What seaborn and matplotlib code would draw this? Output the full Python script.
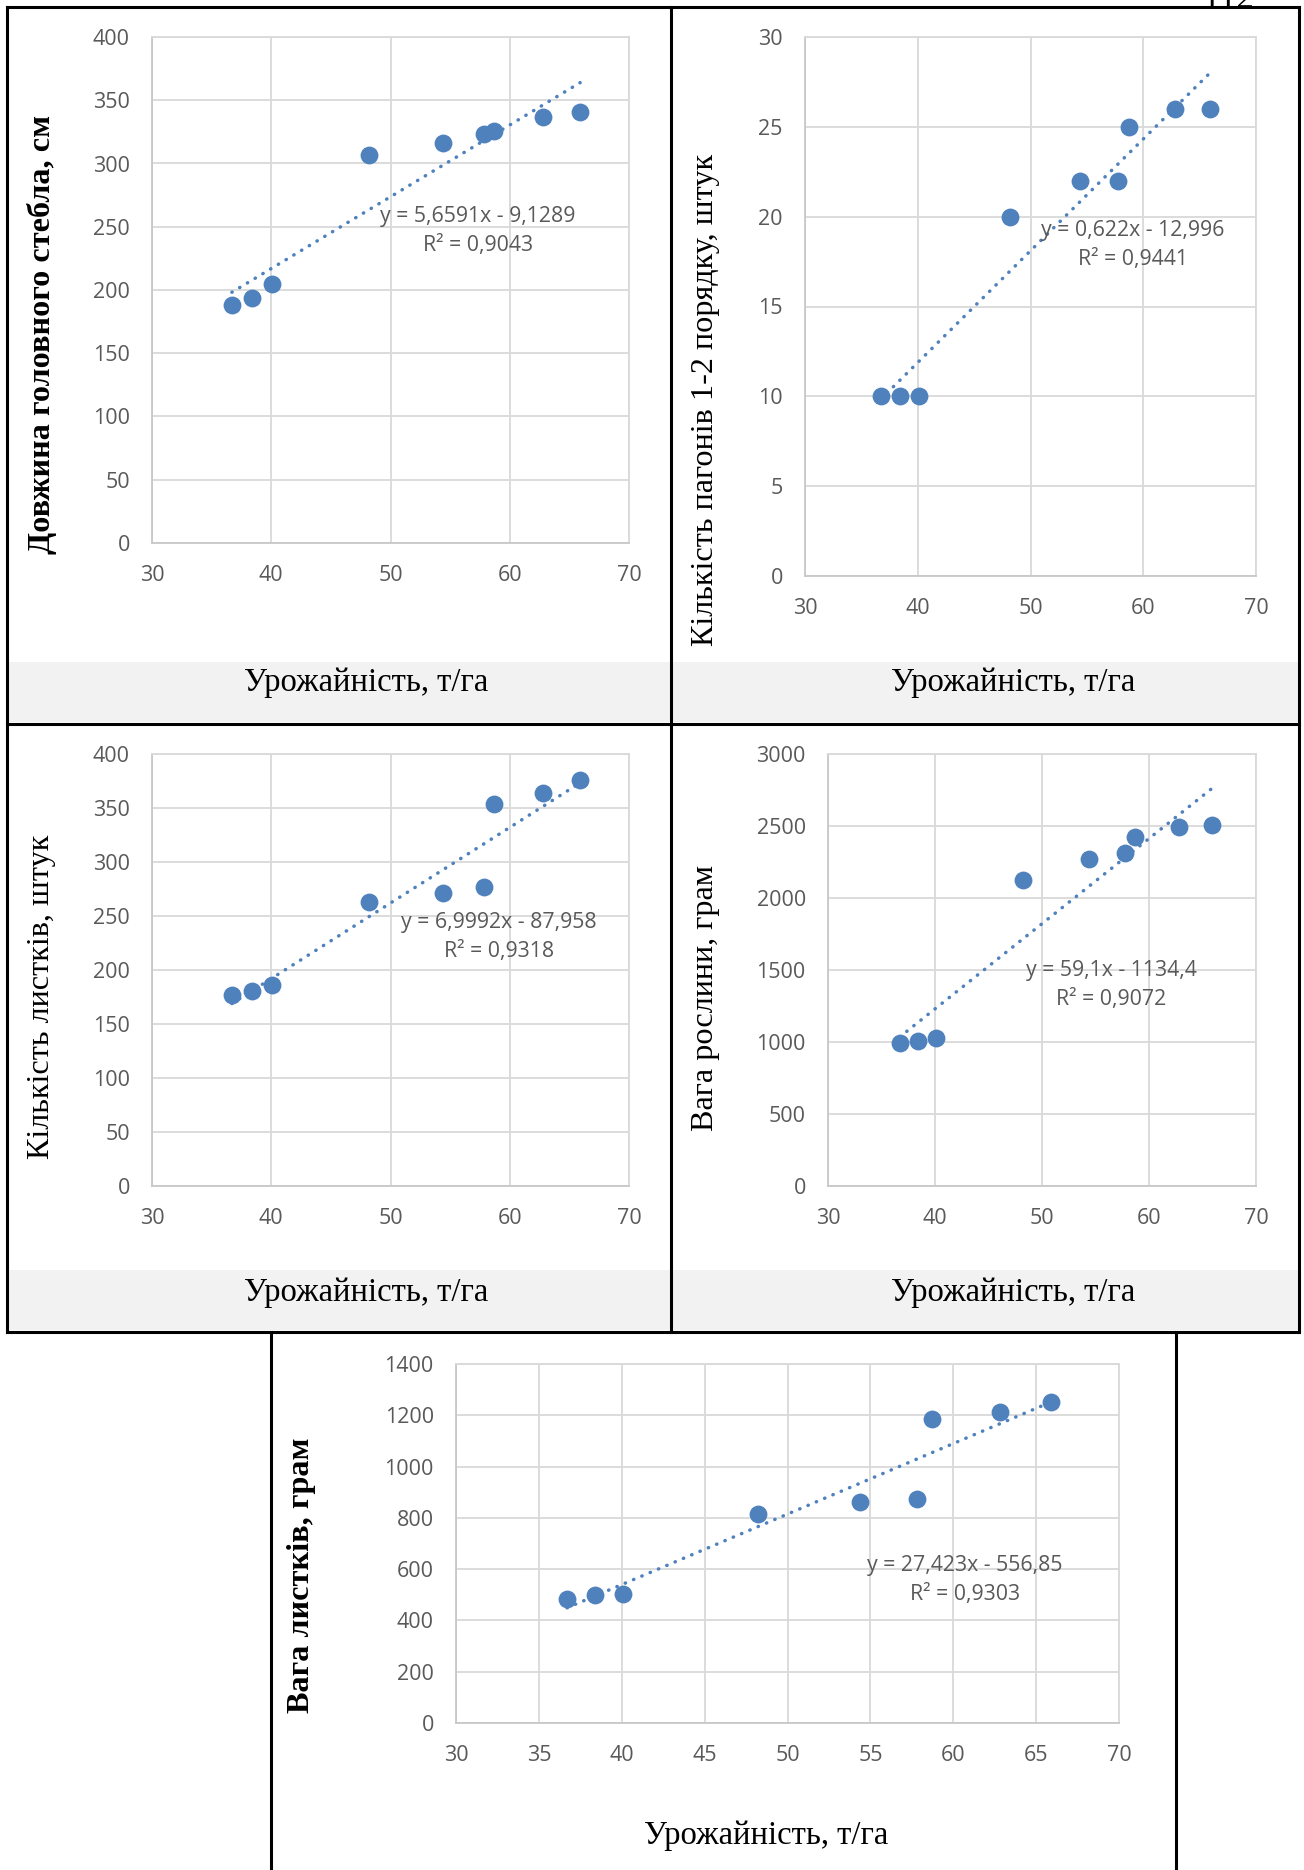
import numpy as np
import pandas as pd
import matplotlib
matplotlib.use("Agg")
import matplotlib.pyplot as plt
import seaborn as sns
from matplotlib.patches import Rectangle
from matplotlib.lines import Line2D

# ---------------- data ----------------
yield_t_ha = [36.7, 38.4, 40.1, 48.2, 54.4, 57.8, 58.7, 62.8, 65.9]
stem_length_cm = [188, 194, 205, 307, 316, 323, 326, 337, 341]
shoots_count = [10, 10, 10, 20, 22, 22, 25, 26, 26]
leaves_count = [177, 181, 186, 263, 271, 277, 354, 364, 376]
plant_weight_g = [995, 1005, 1030, 2128, 2269, 2313, 2423, 2490, 2509]
leaf_weight_g = [485, 499, 503, 815, 863, 874, 1187, 1211, 1253]

x_label = "Урожайність, т/га"
y_labels = [
    "Довжина головного стебла, см",
    "Кількість пагонів 1-2 порядку, штук",
    "Кількість листків, штук",
    "Вага рослини, грам",
    "Вага листків, грам",
]
equations = [
    "y = 5,6591x - 9,1289",
    "y = 0,622x - 12,996",
    "y = 6,9992x - 87,958",
    "y = 59,1x - 1134,4",
    "y = 27,423x - 556,85",
]
r_squared = [
    "R² = 0,9043",
    "R² = 0,9441",
    "R² = 0,9318",
    "R² = 0,9072",
    "R² = 0,9303",
]
y_max = [400, 30, 400, 3000, 1400]
y_step = [50, 5, 50, 500, 200]
x_step = [10, 10, 10, 10, 5]
series = [stem_length_cm, shoots_count, leaves_count, plant_weight_g, leaf_weight_g]
page_number = "112"

# ---------------- layout (pixels) ----------------
W, H = 1304, 1870
plot_px = [
    (152, 37, 629, 543),
    (805, 37, 1256, 576),
    (152, 754, 629, 1186),
    (828, 754, 1256, 1186),
    (456, 1364, 1119, 1723),
]
ylabel_px = [(42, 334), (706, 400), (42, 997), (706, 998), (302, 1575)]
ylabel_bold = [True, False, False, False, True]
xlabel_px = [(366, 683), (1013, 683), (366, 1293), (1013, 1293), (766, 1836)]
eq_px = [(478, 231), (1133, 245), (499, 937), (1111, 985), (965, 1580)]

BLUE = "#4F81BD"
TXT = "#595959"
GRID = "#d9d9d9"
SANS = ["Open Sans", "DejaVu Sans"]
SERIF = ["Liberation Serif", "DejaVu Serif"]

sns.set_style("white")
plt.rcParams["font.family"] = SANS

fig = plt.figure(figsize=(W / 100, H / 100), dpi=100)


def fx(x):
    return x / W


def fy(y):
    return 1 - y / H


# gray bands behind x-axis titles
for (y0, y1) in [(662, 722), (1270, 1330)]:
    fig.patches.append(Rectangle((fx(7), fy(y1)), fx(1299) - fx(7), fy(y0) - fy(y1),
                                 transform=fig.transFigure, facecolor="#f2f2f2",
                                 edgecolor="none", zorder=0))

for i in range(5):
    x0, y0, x1, y1 = plot_px[i]
    ax = fig.add_axes([fx(x0), fy(y1), fx(x1) - fx(x0), fy(y0) - fy(y1)])
    ax.set_facecolor("none")
    df = pd.DataFrame({"x": yield_t_ha, "y": series[i]})
    sns.scatterplot(data=df, x="x", y="y", ax=ax, s=165, color=BLUE,
                    edgecolor=BLUE, linewidth=0, zorder=3)
    sns.regplot(data=df, x="x", y="y", ax=ax, scatter=False, ci=None,
                line_kws=dict(color=BLUE, lw=2.5, linestyle=(0, (0.1, 2.5)),
                              dash_capstyle="round", zorder=4))
    ax.set_xlim(30, 70)
    ax.set_ylim(0, y_max[i])
    ax.set_xticks(np.arange(30, 70 + 0.1, x_step[i]))
    ax.set_yticks(np.arange(0, y_max[i] + 0.1, y_step[i]))
    ax.grid(True, color=GRID, lw=1.3)
    ax.set_axisbelow(True)
    for s in ax.spines.values():
        s.set_color(GRID)
        s.set_linewidth(1.3)
    ax.spines["left"].set_color("#c8c8c8")
    ax.spines["bottom"].set_color("#c8c8c8")
    ax.tick_params(axis="both", length=0, labelsize=15.5, labelcolor=TXT)
    ax.tick_params(axis="y", pad=16)
    ax.tick_params(axis="x", pad=16)
    ax.set_xlabel("")
    ax.set_ylabel("")
    # trendline label
    ex, ey = eq_px[i]
    fig.text(fx(ex), fy(ey), equations[i] + "\n" + r_squared[i], ha="center",
             va="center", multialignment="center", fontsize=15.3, color=TXT,
             linespacing=1.55, family=SANS)
    # axis titles
    lx, ly = ylabel_px[i]
    fig.text(fx(lx), fy(ly), y_labels[i], rotation=90, ha="center", va="center",
             fontsize=23.2, family=SERIF,
             fontweight="bold" if ylabel_bold[i] else "normal", color="black")
    tx, ty = xlabel_px[i]
    fig.text(fx(tx), fy(ty), x_label, ha="center", va="center", fontsize=23.5,
             family=SERIF, color="black")

# frame lines
frame_segments = [
    ((7, 7), (1299, 7)),
    ((7, 724), (1299, 724)),
    ((7, 1332), (1299, 1332)),
    ((7, 7), (7, 1332)),
    ((671, 7), (671, 1332)),
    ((1299, 7), (1299, 1332)),
    ((271, 1332), (271, 1870)),
    ((1176, 1332), (1176, 1870)),
]
for (a, b) in frame_segments:
    fig.add_artist(Line2D([fx(a[0]), fx(b[0])], [fy(a[1]), fy(b[1])],
                          transform=fig.transFigure, color="black", lw=2.2,
                          solid_capstyle="projecting"))

fig.text(fx(1228), fy(8), page_number, ha="center", va="baseline", fontsize=25,
         family=SERIF, color="black")

fig.savefig("out.png", dpi=100, facecolor="white")
